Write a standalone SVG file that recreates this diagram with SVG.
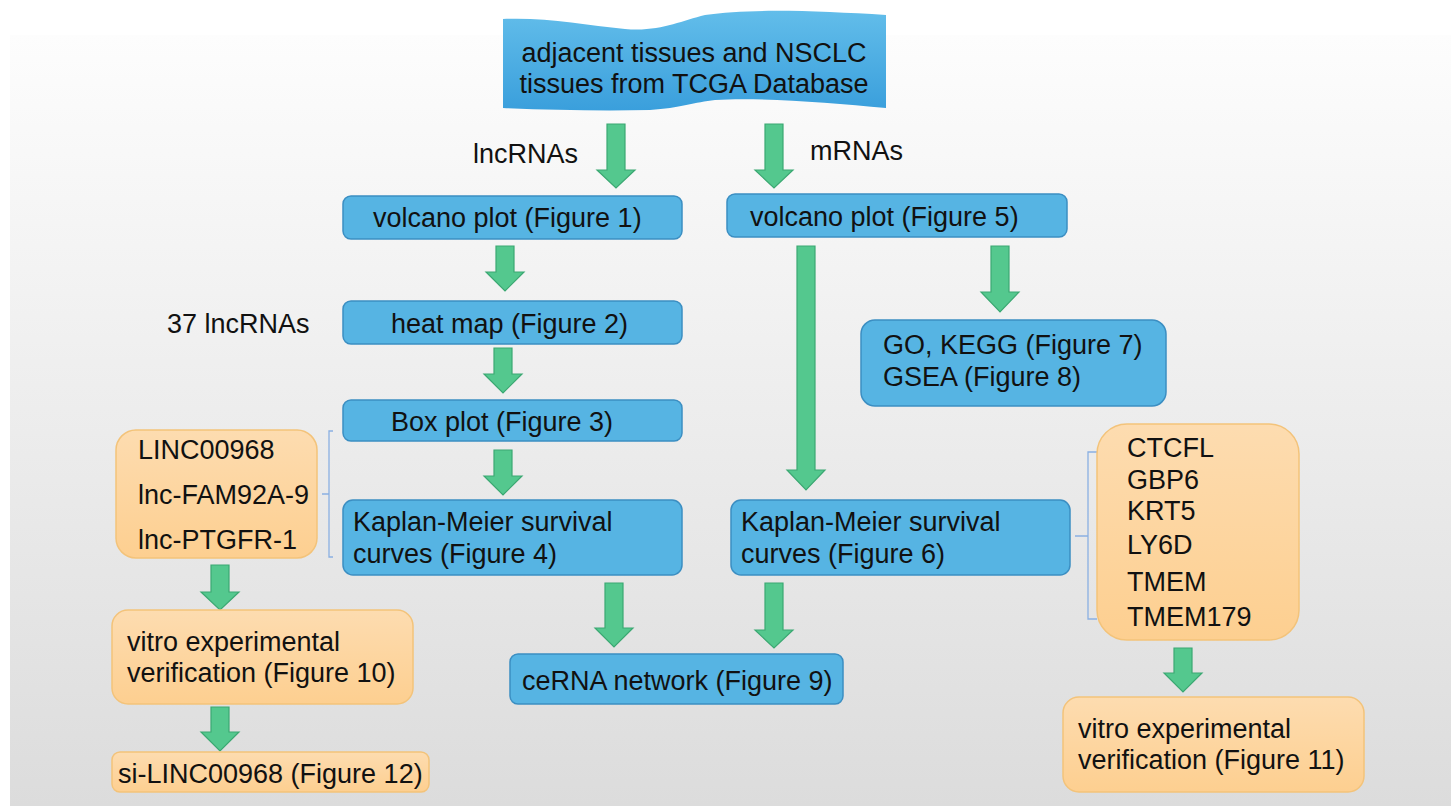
<svg xmlns="http://www.w3.org/2000/svg" width="1451" height="806" viewBox="0 0 1451 806">
<defs>
<linearGradient id="bg" x1="0" y1="0" x2="0" y2="1"><stop offset="0" stop-color="#fdfdfd"/><stop offset="1" stop-color="#dcdcdc"/></linearGradient>
<linearGradient id="ban" x1="0" y1="0" x2="0" y2="1"><stop offset="0" stop-color="#62bdea"/><stop offset="1" stop-color="#3a9fdc"/></linearGradient>
<linearGradient id="org" x1="0" y1="0" x2="0" y2="1"><stop offset="0" stop-color="#fddcb0"/><stop offset="1" stop-color="#fdcf90"/></linearGradient>
<style>
.t{font-family:"Liberation Sans",Arial,sans-serif;font-size:27px;fill:#111}
.b{fill:#56b4e3;stroke:#3b8ec2;stroke-width:1.5}
.o{fill:url(#org);stroke:#f3c37a;stroke-width:1.5}
.a{fill:#54c88e;stroke:#3ba872;stroke-width:1.2}
.br{fill:none;stroke:#8ab0e2;stroke-width:1.3}
</style>
</defs>
<rect width="1451" height="806" fill="#fff"/>
<rect x="10" y="35" width="1441" height="771" fill="url(#bg)"/>

<g id="connectors">
<path class="a" d="M607,124H625V170H635L616,188L597,170H607Z"/>
<path class="a" d="M765,124H783V170H793L774,188L755,170H765Z"/>
<path class="a" d="M496,246H514V272H524L505,291L486,272H496Z"/>
<path class="a" d="M494,348H512V374H522L503,393L484,374H494Z"/>
<path class="a" d="M494,450H512V476H522L503,495L484,476H494Z"/>
<path class="a" d="M797,246H815V470H825L806,490L787,470H797Z"/>
<path class="a" d="M991,246H1009V292H1019L1000,312L981,292H991Z"/>
<path class="a" d="M605,583H623V628H633L614,647L595,628H605Z"/>
<path class="a" d="M765,583H783V630H793L774,648L755,630H765Z"/>
<path class="a" d="M211,565H229V592H239L220,610L201,592H211Z"/>
<path class="a" d="M211,707H229V732H239L220,751L201,732H211Z"/>
<path class="a" d="M1174,648H1192V673H1202L1183,692L1164,673H1174Z"/>
<path class="br" d="M333,431H329V557H333M329,494H322"/>
<path class="br" d="M1097,452H1088V619H1097M1088,536H1075"/>
</g>

<g id="source">
<path d="M503,19 C545,17 585,25 625,29 C660,32 680,21 705,15 C750,8 820,11 886,15 L886,108 C830,103 760,97 715,100 C695,102 680,108 650,110 C600,111 550,110 503,108 Z" fill="url(#ban)"/>
<text class="t" x="694" y="62" text-anchor="middle">adjacent tissues and NSCLC</text>
<text class="t" x="694" y="93" text-anchor="middle">tissues from TCGA Database</text>
</g>
<g id="lbl-lnc"><text class="t" x="473" y="163">lncRNAs</text></g>
<g id="lbl-m"><text class="t" x="810" y="160">mRNAs</text></g>
<g id="lbl-37"><text class="t" x="167" y="333">37 lncRNAs</text></g>

<g id="volcano1"><rect class="b" x="343" y="196" width="339" height="43" rx="8"/><text class="t" x="373" y="227">volcano plot (Figure 1)</text></g>
<g id="heatmap"><rect class="b" x="343" y="301" width="339" height="43" rx="8"/><text class="t" x="391" y="333">heat map (Figure 2)</text></g>
<g id="boxplot"><rect class="b" x="343" y="400" width="339" height="41" rx="8"/><text class="t" x="391" y="431">Box plot (Figure 3)</text></g>
<g id="km1"><rect class="b" x="343" y="500" width="339" height="75" rx="10"/><text class="t" x="353" y="531">Kaplan-Meier survival</text><text class="t" x="353" y="563">curves (Figure 4)</text></g>
<g id="volcano5"><rect class="b" x="727" y="194" width="340" height="43" rx="8"/><text class="t" x="750" y="226">volcano plot (Figure 5)</text></g>
<g id="go"><rect class="b" x="861" y="320" width="305" height="86" rx="14"/><text class="t" x="883" y="354">GO, KEGG (Figure 7)</text><text class="t" x="883" y="386">GSEA (Figure 8)</text></g>
<g id="km2"><rect class="b" x="731" y="500" width="339" height="75" rx="10"/><text class="t" x="741" y="531">Kaplan-Meier survival</text><text class="t" x="741" y="563">curves (Figure 6)</text></g>
<g id="cerna"><rect class="b" x="510" y="654" width="333" height="50" rx="8"/><text class="t" x="522" y="690">ceRNA network (Figure 9)</text></g>

<g id="lnclist"><rect class="o" x="116" y="430" width="201" height="128" rx="20"/><text class="t" x="138" y="459">LINC00968</text><text class="t" x="138" y="504">lnc-FAM92A-9</text><text class="t" x="138" y="549">lnc-PTGFR-1</text></g>
<g id="vitro10"><rect class="o" x="112" y="610" width="301" height="94" rx="16"/><text class="t" x="127" y="651">vitro experimental</text><text class="t" x="127" y="682">verification (Figure 10)</text></g>
<g id="silinc"><rect class="o" x="112" y="752" width="317" height="40" rx="8"/><text class="t" x="118" y="783">si-LINC00968 (Figure 12)</text></g>
<g id="mlist"><rect class="o" x="1097" y="424" width="202" height="216" rx="30"/>
<text class="t" x="1127" y="457">CTCFL</text><text class="t" x="1127" y="489">GBP6</text><text class="t" x="1127" y="520">KRT5</text><text class="t" x="1127" y="554">LY6D</text><text class="t" x="1127" y="591">TMEM</text><text class="t" x="1127" y="626">TMEM179</text></g>
<g id="vitro11"><rect class="o" x="1063" y="697" width="301" height="95" rx="16"/><text class="t" x="1078" y="738">vitro experimental</text><text class="t" x="1078" y="769">verification (Figure 11)</text></g>
</svg>
